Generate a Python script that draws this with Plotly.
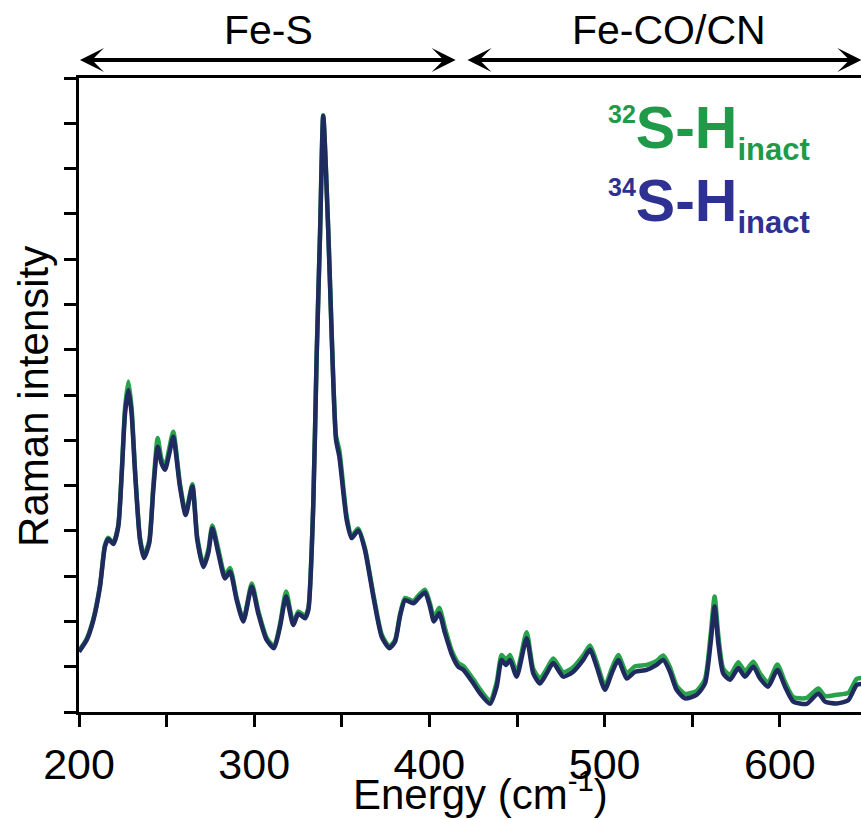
import plotly.graph_objects as go

# ---------------- data ----------------
energy = [200, 204.4, 208.2, 212, 214.8, 216.7, 219.6, 222.4, 224.4, 226.3, 228.2, 230, 232, 234.8,
          237.1, 240.1, 242.4, 244.9, 247, 249.1, 251.5, 253.8, 257.6, 260.9, 264.7, 267.5, 271,
          273.8, 276.1, 279.5, 283.3, 286.2, 290, 293.8, 298.6, 302.3, 307.1, 311.3, 314.7, 318.2,
          322.3, 325.2, 329, 330.9, 333.7, 335.6, 337.6, 339.4, 342.3, 344.5, 346.7, 348.6, 352.8,
          355.6, 359.4, 363.2, 368, 372.8, 377.1, 380.4, 383.2, 386.1, 390.8, 393.7, 397.5, 400.3,
          402.6, 405.6, 408.9, 412.7, 416.5, 419.4, 425.1, 428.9, 434.6, 438.4, 441.2, 443.7, 446,
          449.8, 455.5, 459.3, 463.1, 466.9, 470.7, 476.4, 482.1, 487.8, 491.7, 495.5, 500.2, 504,
          507.8, 512.6, 517.4, 524, 529.7, 533.5, 537.3, 541.1, 545.9, 552.6, 557.3, 560.5, 562.8,
          564.9, 567.7, 571.6, 576.3, 580.1, 584.9, 588.7, 593.4, 598.6, 603, 607.7, 615.3, 622,
          625.8, 632.4, 639.1, 643.9, 647]

s34_inact = [1.33, 1.59, 2.03, 2.77, 3.65, 3.82, 3.71, 4.09, 5.27, 6.6, 7.11, 6.6, 5.28, 3.80,
             3.40, 3.73, 4.90, 5.86, 5.5, 5.35, 5.7, 6.08, 4.98, 4.35, 4.98, 3.80, 3.20,
             3.51, 4.06, 3.51, 2.95, 3.10, 2.47, 2.00, 2.77, 2.18, 1.59, 1.41, 1.88, 2.55,
             1.92, 2.17, 2.07, 2.25, 4.54, 7.78, 10.58, 13.16, 10.58, 8.0, 6.01, 5.64, 4.24,
             3.84, 4.01, 3.58, 2.55, 1.66, 1.41, 1.55, 2.11, 2.47, 2.40, 2.51, 2.64, 2.33,
             2.00, 2.18, 1.74, 1.28, 1.00, 0.93, 0.63, 0.41, 0.18, 0.56, 1.15, 1.04, 1.15,
             0.78, 1.63, 0.85, 0.63, 0.85, 1.08, 0.78, 0.89, 1.15, 1.38, 1.00, 0.49, 0.85,
             1.15, 0.74, 0.89, 0.93, 1.04, 1.15, 0.89, 0.49, 0.30, 0.38, 0.63, 1.52, 2.33,
             1.52, 0.85, 0.71, 0.97, 0.78, 1.00, 0.74, 0.56, 0.93, 0.56, 0.23, 0.18, 0.41,
             0.23, 0.19, 0.26, 0.60, 0.62]

s32_inact = [1.35, 1.62, 2.06, 2.80, 3.68, 3.85, 3.74, 4.12, 5.32, 6.72, 7.30, 6.72, 5.34, 3.85,
             3.46, 3.78, 4.98, 6.05, 5.6, 5.42, 5.82, 6.19, 5.05, 4.40, 5.03, 3.86, 3.25,
             3.58, 4.12, 3.60, 3.02, 3.18, 2.52, 2.04, 2.84, 2.24, 1.64, 1.45, 1.93, 2.66,
             1.97, 2.22, 2.12, 2.30, 4.58, 7.80, 10.6, 13.18, 10.62, 8.05, 6.10, 5.78, 4.32,
             3.90, 4.05, 3.62, 2.60, 1.71, 1.45, 1.59, 2.15, 2.52, 2.45, 2.57, 2.70, 2.40,
             2.08, 2.30, 1.85, 1.36, 1.08, 1.01, 0.72, 0.50, 0.25, 0.66, 1.26, 1.15, 1.26,
             0.88, 1.76, 0.95, 0.74, 0.95, 1.18, 0.88, 0.99, 1.25, 1.47, 1.10, 0.58, 0.95,
             1.26, 0.86, 1.01, 1.04, 1.13, 1.25, 0.99, 0.58, 0.40, 0.47, 0.73, 1.70, 2.55,
             1.70, 0.96, 0.82, 1.10, 0.90, 1.11, 0.85, 0.66, 1.05, 0.66, 0.33, 0.31, 0.52,
             0.35, 0.38, 0.42, 0.73, 0.75]

x_tickvals = [200, 300, 400, 500, 600]
x_ticktext = ["200", "300", "400", "500", "600"]
x_minor_tickvals = [250, 350, 450, 550]
y_tickvals = list(range(0, 15))

regions = ["Fe-S", "Fe-CO/CN"]
region_bounds = [(199.7, 415.0), (420.9, 646.6)]
region_label_x = [308.4, 536.5]

GREEN = "#2aa24c"
NAVY = "#1f2b5e"
LEG_GREEN = "#1e9a48"
LEG_BLUE = "#2e3192"
FONT = "Arial, Liberation Sans, sans-serif"

fig = go.Figure()
fig.add_trace(go.Scatter(x=energy, y=s32_inact, mode="lines",
                         line=dict(color=GREEN, width=4.5, shape="spline", smoothing=0.6),
                         showlegend=False))
fig.add_trace(go.Scatter(x=energy, y=s34_inact, mode="lines",
                         line=dict(color=NAVY, width=4.5, shape="spline", smoothing=0.6),
                         showlegend=False))

annotations = []
for (x0, x1), lab, lx in zip(region_bounds, regions, region_label_x):
    annotations.append(dict(x=x1, y=1.0284, xref="x", yref="y domain",
                            ax=x0, ay=1.0284, axref="x", ayref="y domain",
                            showarrow=True, arrowhead=3, arrowside="end+start",
                            arrowsize=1.0, arrowwidth=4, arrowcolor="black",
                            standoff=0, startstandoff=0, text=""))
    annotations.append(dict(x=lx, y=1.0757, xref="x", yref="y domain",
                            text=lab, showarrow=False, xanchor="center", yanchor="middle",
                            font=dict(family=FONT, size=41, color="black")))

annotations.append(dict(x=500.8, y=0.9164, xref="x", yref="y domain", xanchor="left",
                        yanchor="middle", showarrow=False,
                        text='<b><sup><span style="font-size:25px">32</span></sup>S-H'
                             '<sub><span style="font-size:31px">inact</span></sub></b>',
                        font=dict(family=FONT, size=59, color=LEG_GREEN)))
annotations.append(dict(x=500.8, y=0.8013, xref="x", yref="y domain", xanchor="left",
                        yanchor="middle", showarrow=False,
                        text='<b><sup><span style="font-size:25px">34</span></sup>S-H'
                             '<sub><span style="font-size:31px">inact</span></sub></b>',
                        font=dict(family=FONT, size=59, color=LEG_BLUE)))

# axis titles
annotations.append(dict(x=428.9, y=-0.1703, xref="x", yref="y domain", xanchor="center",
                        yanchor="bottom", showarrow=False, text="Energy (cm<sup>-1</sup>)",
                        font=dict(family=FONT, size=42, color="black")))
annotations.append(dict(x=-0.059, y=0.4984, xref="x domain", yref="y domain", xanchor="center",
                        yanchor="middle", showarrow=False, text="Raman intensity", textangle=-90,
                        font=dict(family=FONT, size=42, color="black")))

fig.update_layout(
    width=861, height=820,
    margin=dict(l=79, r=0, t=78, b=108),
    paper_bgcolor="white", plot_bgcolor="white",
    font=dict(family=FONT, color="black"),
    annotations=annotations,
    xaxis=dict(range=[200, 646.35], tickvals=x_tickvals, ticktext=x_ticktext,
               ticks="outside", ticklen=12, tickwidth=2.5, tickcolor="black",
               minor=dict(tickvals=x_minor_tickvals, ticks="outside", ticklen=12,
                          tickwidth=2.5, tickcolor="black", showgrid=False),
               showline=True, linecolor="black", linewidth=3, mirror=True,
               showgrid=False, zeroline=False,
               tickfont=dict(size=43, family=FONT)),
    yaxis=dict(range=[0, 14], tickvals=y_tickvals, showticklabels=False,
               ticks="outside", ticklen=12, tickwidth=2.5, tickcolor="black",
               showline=True, linecolor="black", linewidth=3,
               showgrid=False, zeroline=False),
)

fig.write_html("out.html")
